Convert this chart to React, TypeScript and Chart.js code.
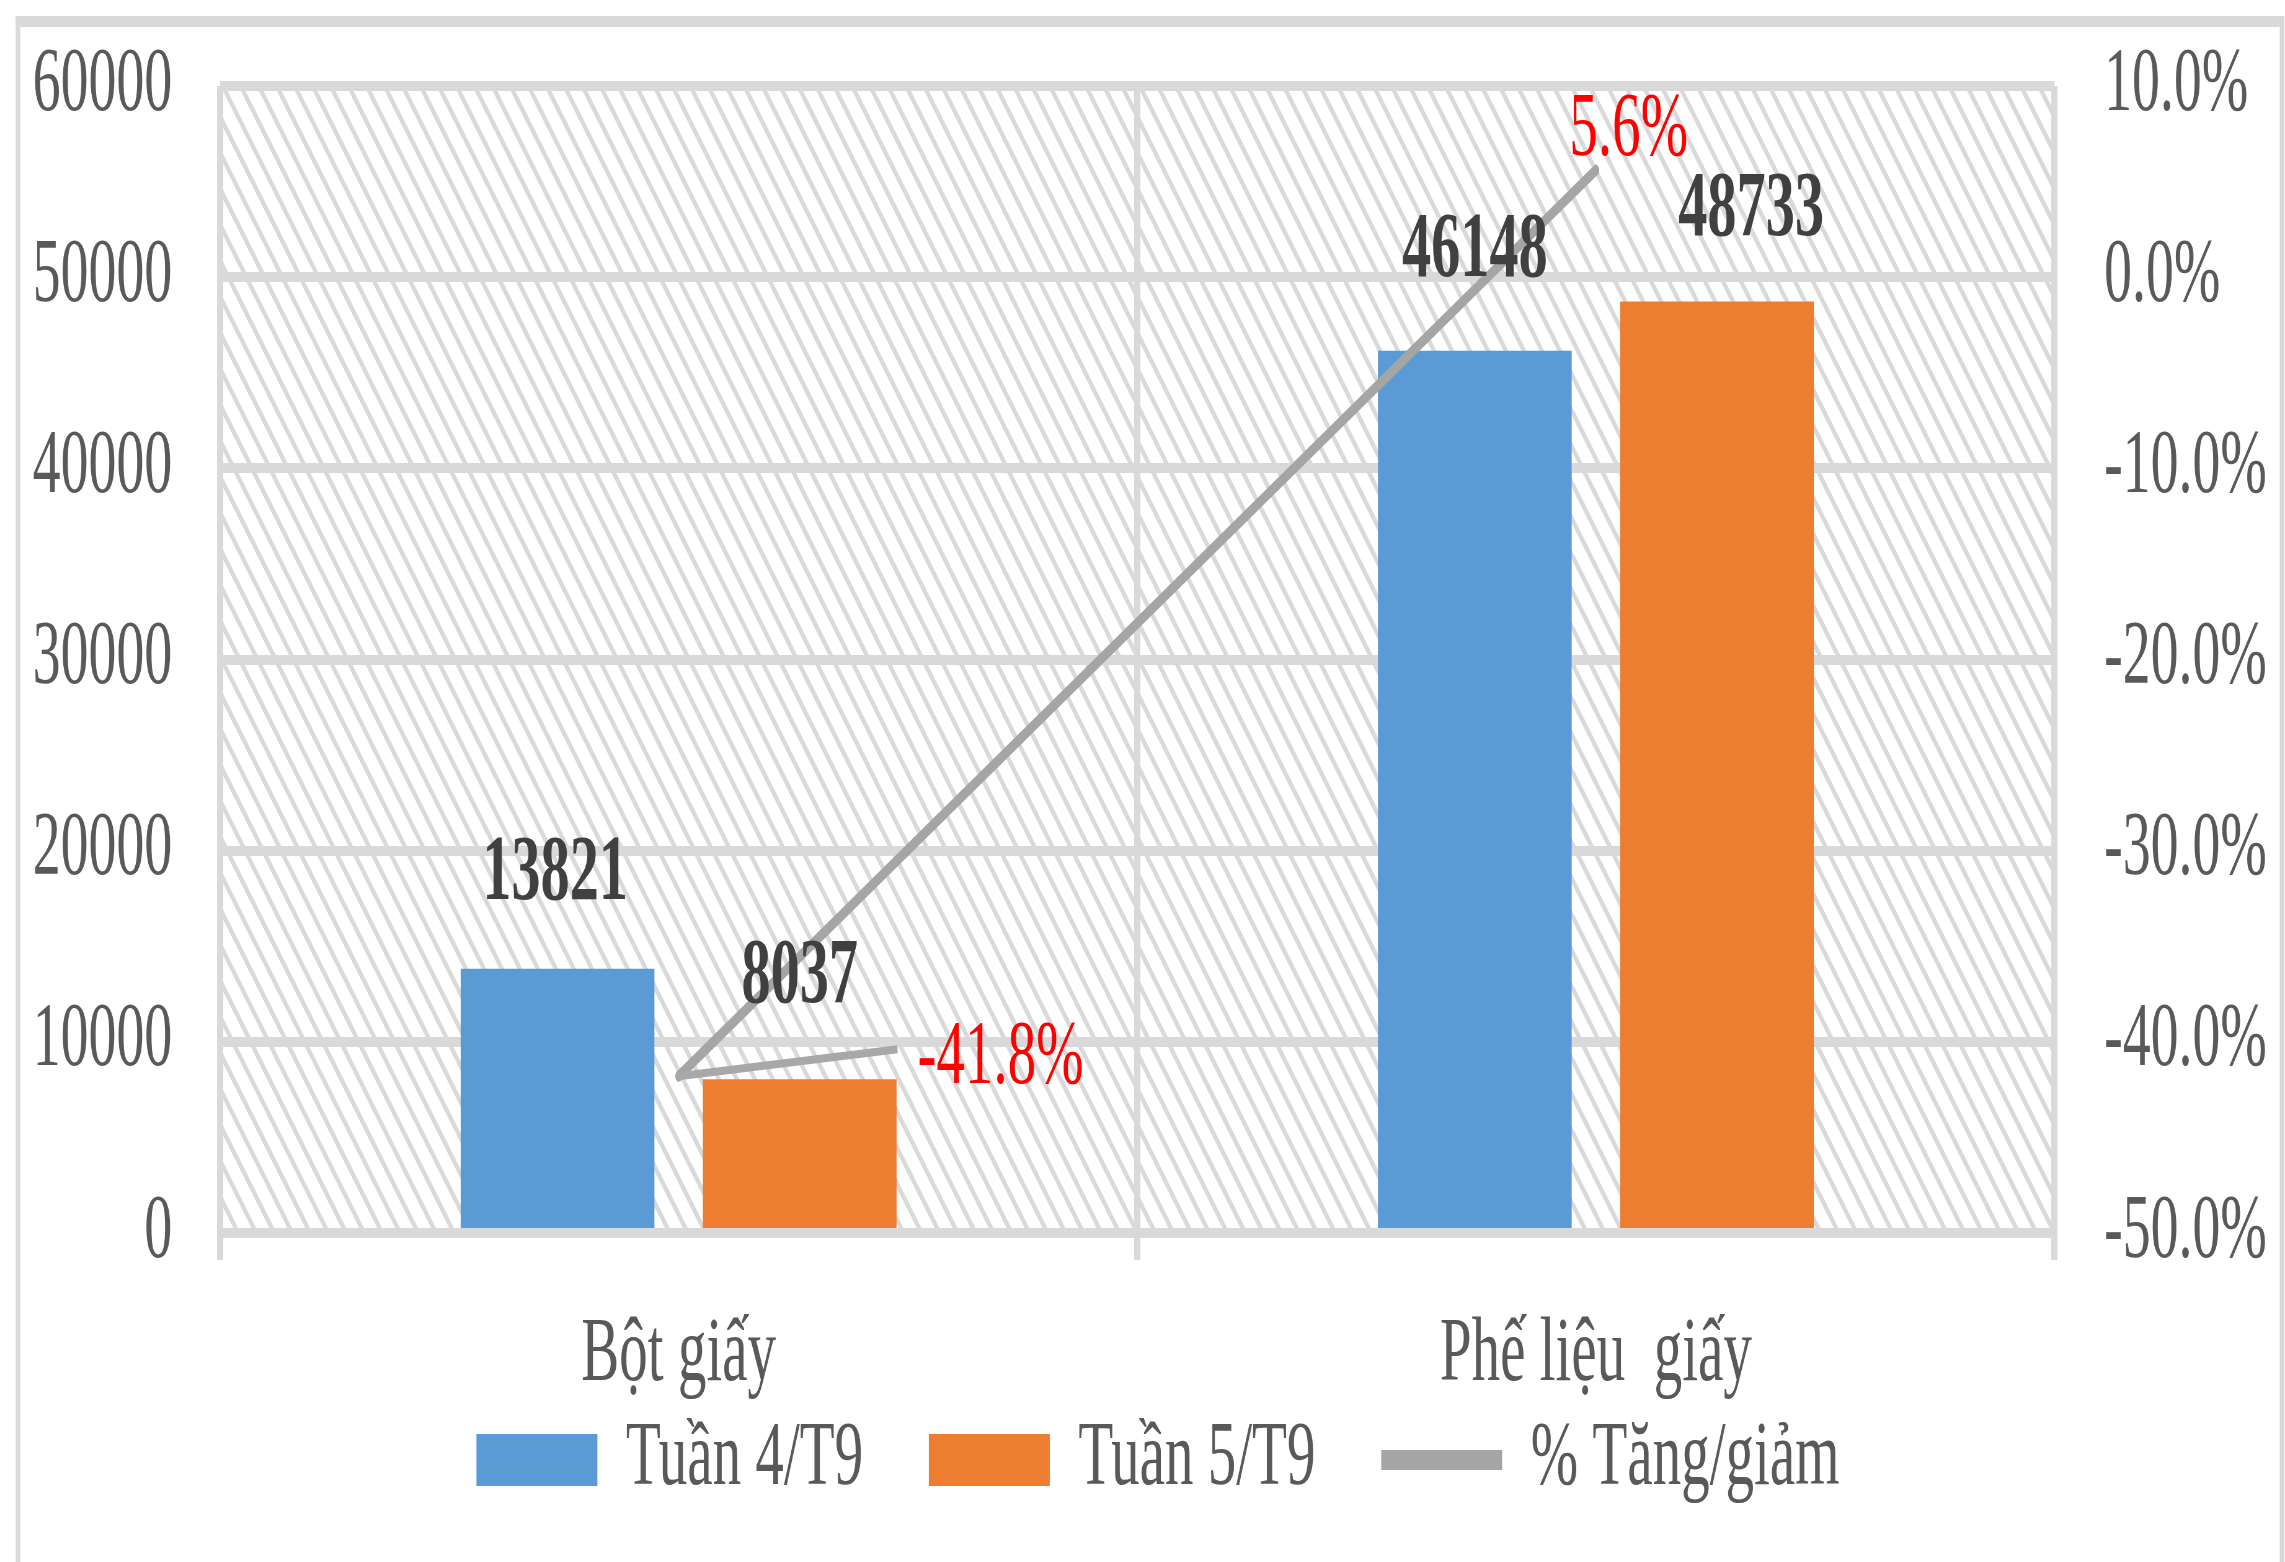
import React, { useEffect, useRef } from 'react';
import { Chart, registerables } from 'chart.js';

Chart.register(...registerables);

// ---------- data ----------
const categories = ['Bột giấy', 'Phế liệu  giấy'];
const seriesNames = ['Tuần 4/T9', 'Tuần 5/T9', '% Tăng/giảm'];
const week4 = [13821, 46148];
const week5 = [8037, 48733];
const changePct = [-41.8, 5.6];
const leftTicks = [0, 10000, 20000, 30000, 40000, 50000, 60000];
const rightTicks = [-50, -40, -30, -20, -10, 0, 10];

// ---------- geometry (inner canvas is drawn wide, then squeezed horizontally) ----------
const W = 3685;
const H = 1562;
const SX = 2285 / W;
const px = (c: number) => c / SX;
const FONT = "'Liberation Serif', 'Times New Roman', serif";

const GRID = '#d9d9d9';
const TEXT = '#595959';
const LEFT_PAD = 50;

function makePattern(ctx: CanvasRenderingContext2D) {
  const TW = 29;
  const TH = 36;
  const c = document.createElement('canvas');
  c.width = TW;
  c.height = TH;
  const g = c.getContext('2d')!;
  g.fillStyle = '#ffffff';
  g.fillRect(0, 0, TW, TH);
  g.strokeStyle = GRID;
  g.lineWidth = 6;
  for (const k of [-TW, 0, TW]) {
    g.beginPath();
    g.moveTo(k - TW, -TH);
    g.lineTo(k + 2 * TW, 2 * TH);
    g.stroke();
  }
  return ctx.createPattern(c, 'repeat')!;
}

const backgroundPlugin = {
  id: 'bgFrame',
  beforeDraw(chart: any) {
    const { ctx, chartArea: a } = chart;
    ctx.save();
    ctx.fillStyle = '#ffffff';
    ctx.fillRect(0, 0, W, H);
    ctx.fillStyle = makePattern(ctx);
    ctx.fillRect(a.left, a.top, a.right - a.left, a.bottom - a.top);
    ctx.fillStyle = GRID;
    ctx.fillRect(px(15.6), 16, px(2284) - px(15.6), 11);
    ctx.fillRect(px(15.6), 16, px(4.6), H);
    ctx.fillRect(px(2279.8), 16, px(4.6), H);
    ctx.restore();
  },
};

// label shifts in inner pixels relative to the bar top / line point
const barLabelShift = [
  [[-4, -94], [0, -99]],
  [[0, -102], [55, -91]],
];

const labelPlugin = {
  id: 'valueLabels',
  afterDatasetsDraw(chart: any) {
    const ctx = chart.ctx as CanvasRenderingContext2D;
    ctx.save();
    const barSeries = [week4, week5];
    [0, 1].forEach((di) => {
      const meta = chart.getDatasetMeta(di);
      meta.data.forEach((el: any, i: number) => {
        const [dx, dy] = barLabelShift[di][i];
        ctx.font = `bold 94px ${FONT}`;
        ctx.fillStyle = '#404040';
        ctx.textAlign = 'center';
        ctx.textBaseline = 'middle';
        ctx.fillText(String(barSeries[di][i]), el.x + dx, el.y + dy);
      });
    });
    const lm = chart.getDatasetMeta(2);
    lm.data.forEach((el: any, i: number) => {
      const txt = `${changePct[i].toFixed(1)}%`;
      ctx.font = `92px ${FONT}`;
      ctx.fillStyle = '#ff0000';
      ctx.textBaseline = 'middle';
      if (i === 0) {
        ctx.strokeStyle = '#a8a8a8';
        ctx.lineWidth = 8;
        ctx.lineCap = 'butt';
        ctx.beginPath();
        ctx.moveTo(el.x, el.y);
        ctx.lineTo(el.x + 353, el.y - 27);
        ctx.stroke();
        ctx.textAlign = 'left';
        ctx.fillText(txt, el.x + 385, el.y - 17);
      } else {
        ctx.textAlign = 'center';
        ctx.fillText(txt, el.x + 53, el.y - 39);
      }
    });
    ctx.restore();
  },
};

export default function App() {
  const ref = useRef<HTMLCanvasElement | null>(null);

  useEffect(() => {
    if (!ref.current) return;
    const chart = new Chart(ref.current, {
      type: 'bar',
      data: {
        labels: categories,
        datasets: [
          {
            type: 'bar',
            label: seriesNames[0],
            data: week4,
            backgroundColor: '#5b9bd5',
            borderWidth: 0,
            categoryPercentage: 0.528,
            barPercentage: 0.8,
            order: 1,
            yAxisID: 'y',
          },
          {
            type: 'bar',
            label: seriesNames[1],
            data: week5,
            backgroundColor: '#ed7d31',
            borderWidth: 0,
            categoryPercentage: 0.528,
            barPercentage: 0.8,
            order: 1,
            yAxisID: 'y',
          },
          {
            type: 'line',
            label: seriesNames[2],
            data: changePct,
            borderColor: '#a5a5a5',
            backgroundColor: '#a5a5a5',
            borderWidth: 11,
            borderCapStyle: 'round',
            borderJoinStyle: 'round',
            pointRadius: 0,
            order: 0,
            yAxisID: 'y1',
          },
        ] as any,
      },
      options: {
        responsive: false,
        animation: false,
        devicePixelRatio: 1,
        layout: { padding: { left: LEFT_PAD, right: 0, top: 86, bottom: 46 } },
        plugins: {
          tooltip: { enabled: false },
          legend: {
            position: 'bottom',
            labels: {
              usePointStyle: true,
              pointStyleWidth: 195,
              boxHeight: 52,
              padding: 106,
              color: TEXT,
              font: { family: FONT, size: 92 },
              generateLabels: (ch: any) => {
                const items = (Chart as any).defaults.plugins.legend.labels.generateLabels(ch);
                items.sort((a: any, b: any) => a.datasetIndex - b.datasetIndex);
                return items.map((it: any) =>
                  it.datasetIndex === 2
                    ? { ...it, pointStyle: 'line', lineWidth: 20, strokeStyle: '#a5a5a5', lineCap: 'butt' }
                    : { ...it, pointStyle: 'rect', lineWidth: 0 }
                );
              },
            },
          },
        },
        scales: {
          x: {
            type: 'category',
            offset: true,
            grid: { offset: true, color: GRID, lineWidth: 10, drawTicks: true, tickLength: 27 },
            border: { display: false },
            ticks: {
              color: TEXT,
              font: { family: FONT, size: 92 },
              mirror: true,
              padding: -178,
              maxRotation: 0,
              autoSkip: false,
            },
            afterFit: (s: any) => {
              s.height = 75;
            },
          },
          y: {
            position: 'left',
            min: 0,
            max: 60000,
            grid: {
              color: GRID,
              lineWidth: 10,
              drawTicks: true,
              tickLength: 77,
              tickColor: 'rgba(0,0,0,0)',
            },
            border: { display: false },
            ticks: {
              color: TEXT,
              font: { family: FONT, size: 90 },
              padding: 0,
              callback: (v: any) => String(v),
            },
            afterBuildTicks: (s: any) => {
              s.ticks = leftTicks.map((value) => ({ value }));
            },
            afterFit: (s: any) => {
              s.width = px(220) - LEFT_PAD;
            },
          },
          y1: {
            position: 'right',
            min: -50,
            max: 10,
            grid: {
              display: true,
              drawOnChartArea: false,
              drawTicks: true,
              tickLength: 80,
              tickColor: 'rgba(0,0,0,0)',
            },
            border: { display: false },
            ticks: {
              color: TEXT,
              font: { family: FONT, size: 90 },
              padding: 0,
              callback: (v: any) => `${Number(v).toFixed(1)}%`,
            },
            afterBuildTicks: (s: any) => {
              s.ticks = rightTicks.map((value) => ({ value }));
            },
            afterFit: (s: any) => {
              s.width = W - px(2054.5);
            },
          },
        },
      } as any,
      plugins: [backgroundPlugin, labelPlugin],
    });
    return () => chart.destroy();
  }, []);

  return (
    <div
      style={{
        position: 'absolute',
        left: 0,
        top: 0,
        width: 2285,
        height: 1562,
        overflow: 'hidden',
        background: '#ffffff',
      }}
    >
      <canvas
        ref={ref}
        width={W}
        height={H}
        style={{
          display: 'block',
          width: W,
          height: H,
          transform: `scaleX(${SX})`,
          transformOrigin: '0 0',
        }}
      />
    </div>
  );
}
